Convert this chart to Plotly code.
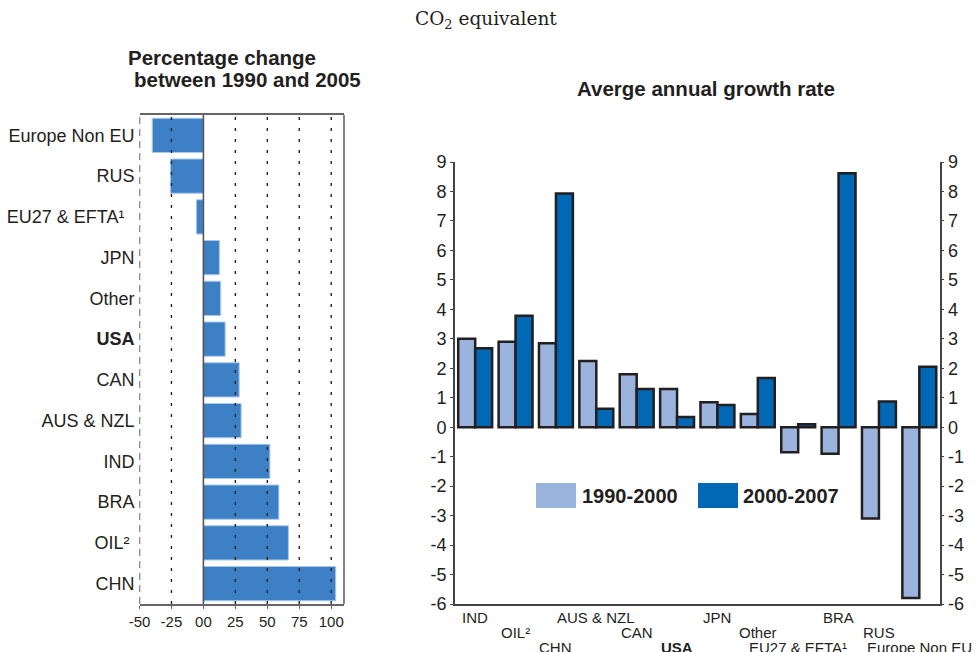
import plotly.graph_objects as go

# ---- Data -------------------------------------------------------------
pct_categories = ["Europe Non EU", "RUS", "EU27 & EFTA¹", "JPN", "Other", "USA",
                  "CAN", "AUS & NZL", "IND", "BRA", "OIL²", "CHN"]
pct_category_labels = ["Europe Non EU", "RUS", "EU27 & EFTA¹\u00a0\u00a0", "JPN", "Other",
                       "<b>USA</b>", "CAN", "AUS & NZL", "IND", "BRA", "OIL²\u00a0", "CHN"]
pct_change = [-40, -25.8, -5.5, 12.5, 13.5, 17, 28, 29.5, 52, 59, 66.5, 103.5]
pct_ticks = [-50, -25, 0, 25, 50, 75, 100]
pct_tick_labels = ["-50", "-25", "00", "25", "50", "75", "100"]

growth_categories = ["IND", "OIL²", "CHN", "AUS & NZL", "CAN", "USA", "JPN", "Other",
                     "EU27 & EFTA¹", "BRA", "RUS", "Europe Non EU"]
growth_1990_2000 = [3.0, 2.9, 2.85, 2.25, 1.8, 1.3, 0.85, 0.45, -0.85, -0.9, -3.1, -5.8]
growth_2000_2007 = [2.68, 3.78, 7.93, 0.63, 1.3, 0.35, 0.75, 1.67, 0.1, 8.62, 0.87, 2.05]
growth_ticks = list(range(-6, 10))
growth_tick_labels = [str(v) for v in growth_ticks]
series_names = ["1990-2000", "2000-2007"]

# ---- Styling ----------------------------------------------------------
FONT = "Liberation Sans, Arial, sans-serif"
TXT = "#231f20"
PCT_BLUE = "#3d80c5"
LIGHT = "#9bb4dd"
DARK = "#0068b5"
OUTLINE = "#231f20"

fig = go.Figure()

# Left panel: horizontal bars of percentage change
fig.add_trace(go.Bar(
    x=pct_change, y=pct_categories, orientation="h",
    marker=dict(color=PCT_BLUE, line=dict(color="#a9c8ea", width=1)),
    xaxis="x", yaxis="y", showlegend=False, hoverinfo="x+y",
))

# Right panel: grouped bars of average annual growth
for name, vals, col in zip(series_names, [growth_1990_2000, growth_2000_2007], [LIGHT, DARK]):
    fig.add_trace(go.Bar(
        x=growth_categories, y=vals, name=name,
        marker=dict(color=col, line=dict(color=OUTLINE, width=2.5)),
        xaxis="x2", yaxis="y2", showlegend=False,
    ))

# Empty trace carrying the mirrored right-hand value axis
fig.add_trace(go.Scatter(x=[], y=[], xaxis="x2", yaxis="y3", showlegend=False))

W, H = 976, 652


def px_x(p):
    return p / W


def px_y(p):
    return 1 - p / H


shapes = []
# Dotted reference lines of the left panel, drawn over the bars
for t in pct_ticks:
    if t == 0:
        shapes.append(dict(type="line", xref="x", yref="y domain", x0=t, x1=t, y0=0, y1=1,
                           line=dict(color="#555555", width=1.6), layer="above"))
    elif t == pct_ticks[0]:
        shapes.append(dict(type="line", xref="x", yref="y domain", x0=t, x1=t, y0=0, y1=1,
                           line=dict(color="#222222", width=1.4, dash="7px,5px"), layer="above"))
    else:
        shapes.append(dict(type="line", xref="x", yref="y domain", x0=t, x1=t, y0=0, y1=1,
                           line=dict(color="#222222", width=1.4, dash="3px,8px"), layer="above"))
# Right border of the left panel
shapes.append(dict(type="line", xref="x domain", yref="y domain", x0=1, x1=1, y0=0, y1=1,
                   line=dict(color="#666666", width=1.6)))

# Legend swatches
shapes.append(dict(type="rect", xref="paper", yref="paper",
                   x0=px_x(536), x1=px_x(576), y0=px_y(508), y1=px_y(483),
                   fillcolor=LIGHT, line=dict(width=0)))
shapes.append(dict(type="rect", xref="paper", yref="paper",
                   x0=px_x(698), x1=px_x(738), y0=px_y(508), y1=px_y(483),
                   fillcolor=DARK, line=dict(width=0)))

annotations = [
    dict(text="CO<sub>2</sub> equivalent", x=px_x(486), y=px_y(20), xref="paper", yref="paper",
         showarrow=False, xanchor="center", yanchor="middle",
         font=dict(family="DejaVu Serif, serif", size=18.5, color=TXT)),
    dict(text="<b>Percentage change</b>", x=px_x(126), y=px_y(57), xref="paper", yref="paper",
         showarrow=False, xanchor="left", yanchor="middle",
         font=dict(family=FONT, size=20.5, color=TXT)),
    dict(text="<b>between 1990 and 2005</b>", x=px_x(132), y=px_y(80), xref="paper", yref="paper",
         showarrow=False, xanchor="left", yanchor="middle",
         font=dict(family=FONT, size=20.5, color=TXT)),
    dict(text="<b>Averge annual growth rate</b>", x=px_x(706), y=px_y(88), xref="paper", yref="paper",
         showarrow=False, xanchor="center", yanchor="middle",
         font=dict(family=FONT, size=20.5, color=TXT)),
    dict(text="<b>1990-2000</b>", x=px_x(580), y=px_y(495.5), xref="paper", yref="paper",
         showarrow=False, xanchor="left", yanchor="middle",
         font=dict(family=FONT, size=20, color=TXT)),
    dict(text="<b>2000-2007</b>", x=px_x(741), y=px_y(495.5), xref="paper", yref="paper",
         showarrow=False, xanchor="left", yanchor="middle",
         font=dict(family=FONT, size=20, color=TXT)),
]

# Staggered category labels under the right panel
levels = [617, 632, 647]
for i, cat in enumerate(growth_categories):
    label = "<b>%s</b>" % cat if cat == "USA" else cat
    annotations.append(dict(text=label, x=cat, xref="x2", y=px_y(levels[i % 3]), yref="paper",
                            showarrow=False, xanchor="center", yanchor="middle",
                            font=dict(family=FONT, size=15, color=TXT)))

fig.update_layout(
    width=W, height=H,
    margin=dict(l=0, r=0, t=0, b=0, pad=0),
    paper_bgcolor="white", plot_bgcolor="white",
    font=dict(family=FONT, color=TXT),
    barmode="group", bargap=0.16, bargroupgap=0,
    showlegend=False,
    shapes=shapes, annotations=annotations,
    xaxis=dict(domain=[px_x(139.5), px_x(344)], range=[-50, 110], automargin=False,
               tickvals=pct_ticks, ticktext=pct_tick_labels,
               tickfont=dict(size=15, color=TXT),
               showgrid=False, zeroline=False,
               showline=True, mirror=True, linecolor="#666666", linewidth=1.6,
               ticks="outside", ticklen=3, tickcolor="#666666",
               anchor="y", fixedrange=True),
    yaxis=dict(domain=[px_y(604), px_y(115)], range=[11.5, -0.5], automargin=False,
               type="category", categoryorder="array", categoryarray=pct_categories,
               tickvals=pct_categories, ticktext=pct_category_labels,
               tickfont=dict(size=18, color=TXT), showgrid=False, zeroline=False,
               showline=False, ticks="", ticklabelstandoff=4, anchor="x", fixedrange=True),
    xaxis2=dict(domain=[px_x(455), px_x(939.5)], range=[-0.5, 11.5], automargin=False,
                type="category", categoryorder="array", categoryarray=growth_categories,
                showticklabels=False, showgrid=False, zeroline=False,
                showline=True, linecolor="#444444", linewidth=1.6, ticks="",
                anchor="y2", fixedrange=True),
    yaxis2=dict(domain=[px_y(604), px_y(162)], range=[-6, 9], automargin=False,
                tickvals=growth_ticks, ticktext=growth_tick_labels,
                tickfont=dict(size=18, color=TXT),
                showgrid=False, zeroline=False,
                showline=True, linecolor="#444444", linewidth=1.6,
                ticks="outside", ticklen=3, tickcolor="#444444",
                anchor="x2", fixedrange=True),
    yaxis3=dict(domain=[px_y(604), px_y(162)], range=[-6, 9], overlaying="y2", side="right",
                automargin=False,
                tickvals=growth_ticks, ticktext=growth_tick_labels,
                tickfont=dict(size=18, color=TXT),
                showgrid=False, zeroline=False,
                showline=True, linecolor="#444444", linewidth=1.6,
                ticks="outside", ticklen=3, tickcolor="#444444",
                anchor="x2", fixedrange=True),
)

# Let the fixed-size figure sit flush in the page
page_css = ("document.body.style.margin='0';document.body.style.padding='0';"
            "document.body.style.overflow='hidden';")
fig.write_html("out.html", post_script=page_css, config={"displayModeBar": False})
